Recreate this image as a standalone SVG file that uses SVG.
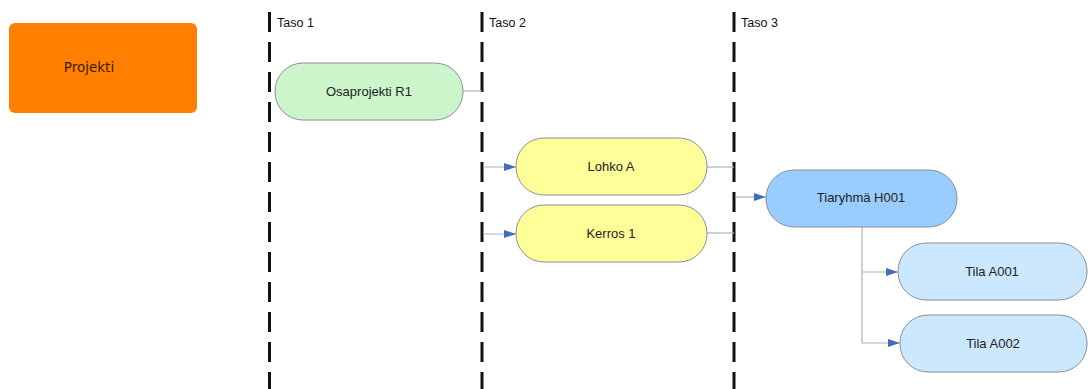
<svg xmlns="http://www.w3.org/2000/svg" width="1088" height="389" viewBox="0 0 1088 389">
  <defs>
    <marker id="arrow" viewBox="0 0 12 8" refX="12" refY="4" markerWidth="12" markerHeight="8" markerUnits="userSpaceOnUse" orient="auto">
      <path d="M0,0 L12,4 L0,8 z" fill="#3f6fb8"/>
    </marker>
  </defs>
  <style>
    .lvl { stroke: #111; stroke-width: 3; stroke-dasharray: 20 10; fill: none; }
    .lvltxt { font-family: "Liberation Sans", Arial, sans-serif; font-size: 12.5px; fill: #111; }
    .node { stroke: #8a8f96; stroke-width: 1; }
    .lbl { font-family: "Liberation Sans", Arial, sans-serif; font-size: 13px; fill: #222; text-anchor: middle; dominant-baseline: central; }
    .conn { stroke: #a9b4c0; stroke-width: 1.2; fill: none; }
    .arr { marker-end: url(#arrow); }
  </style>
  <rect width="1088" height="389" fill="#ffffff"/>

  <!-- level separators -->
  <g id="levels">
    <line class="lvl" x1="269.5" y1="12" x2="269.5" y2="389"/>
    <line class="lvl" x1="482" y1="12" x2="482" y2="389"/>
    <line class="lvl" x1="734" y1="12" x2="734" y2="389"/>
    <text class="lvltxt" x="277" y="27">Taso 1</text>
    <text class="lvltxt" x="489" y="27">Taso 2</text>
    <text class="lvltxt" x="741" y="27">Taso 3</text>
  </g>

  <!-- connectors -->
  <g id="connectors">
    <line class="conn" x1="463" y1="91" x2="482" y2="91"/>
    <line class="conn arr" x1="483" y1="167" x2="516" y2="167"/>
    <line class="conn arr" x1="483" y1="234" x2="516" y2="234"/>
    <line class="conn" x1="707" y1="167" x2="734" y2="167"/>
    <line class="conn" x1="707" y1="233" x2="734" y2="233"/>
    <line class="conn arr" x1="735" y1="197" x2="766" y2="197"/>
    <polyline class="conn" points="862,227 862,343"/>
    <line class="conn arr" x1="862" y1="272" x2="898" y2="272"/>
    <line class="conn arr" x1="862" y1="343" x2="900" y2="343"/>
  </g>

  <g id="projekti">
    <rect x="9" y="23" width="188" height="90" rx="6" fill="#ff8000"/>
    <text x="89" y="67" font-family="'DejaVu Sans', Verdana, sans-serif" font-size="13.5" fill="#3a1c00" text-anchor="middle" dominant-baseline="central">Projekti</text>
  </g>

  <g id="osaprojekti-r1">
    <rect class="node" x="275" y="63" width="188" height="57" rx="28" fill="#ccf5cc"/>
    <text class="lbl" x="369" y="91.5">Osaprojekti R1</text>
  </g>

  <g id="lohko-a">
    <rect class="node" x="516" y="138" width="191" height="57" rx="28" fill="#ffff99"/>
    <text class="lbl" x="611" y="166">Lohko A</text>
  </g>

  <g id="kerros-1">
    <rect class="node" x="516" y="205" width="191" height="57" rx="28" fill="#ffff99"/>
    <text class="lbl" x="611" y="233">Kerros 1</text>
  </g>

  <g id="tiaryhma-h001">
    <rect class="node" x="766" y="170" width="191" height="57" rx="28" fill="#99ccff"/>
    <text class="lbl" x="861" y="197">Tiaryhmä H001</text>
  </g>

  <g id="tila-a001">
    <rect class="node" x="898" y="243" width="189" height="57" rx="28" fill="#cce8ff"/>
    <text class="lbl" x="992" y="271">Tila A001</text>
  </g>

  <g id="tila-a002">
    <rect class="node" x="900" y="315" width="187" height="57" rx="28" fill="#cce8ff"/>
    <text class="lbl" x="993" y="343">Tila A002</text>
  </g>
</svg>
